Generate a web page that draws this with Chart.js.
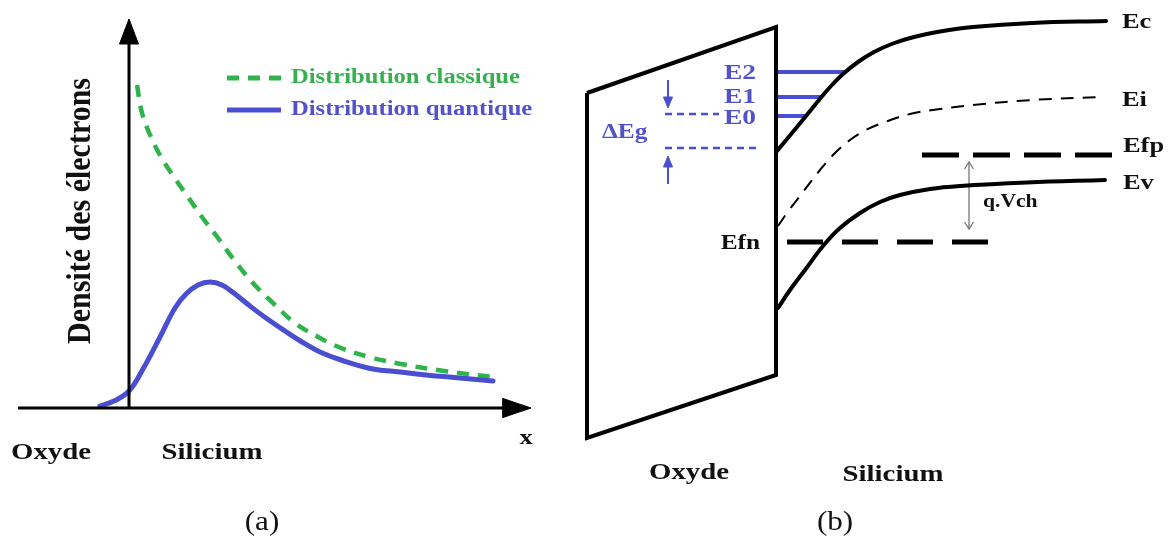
<!DOCTYPE html>
<html>
<head>
<meta charset="utf-8">
<script src="https://cdn.jsdelivr.net/npm/chart.js@4/dist/chart.umd.min.js"></script>
<style>
  body { margin: 0; background: #fff; }
  canvas { display: block; }
</style>
</head>
<body>
<canvas id="schema" width="1173" height="541"></canvas>
<script>
// --- panel (a) : densité des électrons ---
var classique = [[137,85],[142,113],[151,137],[161,157],[174,177],[188,197],[202,217],[218,238],[234,260],[252,282],[273,303],[295,323],[320,338],[341,348],[369,357],[401,364],[444,371],[493,377]];
var quantique = [[100,406],[114,401],[129,391],[143,369],[160,337],[175,308],[186,294],[198,285],[210,282],[222,285],[235,294],[250,306],[266,318],[285,331],[302,342],[320,352],[341,360],[373,369],[400,372],[426,375],[460,378],[493,381]];
var axeY = [[129,408],[129,40]];
var axeYTete = [[129,19],[119.5,44],[138.5,44],[129,19]];
var axeX = [[18,408],[506,408]];
var axeXTete = [[531,408],[503,398.5],[503,417.5],[531,408]];
var legendeClassique = [[227,78],[281,78]];
var legendeQuantique = [[227,110],[281,110]];

// --- panel (b) : diagramme de bandes ---
var oxyde = [[587,93],[776,27],[776,375],[587,438],[587,93]];
var Ec = [[777,151],[792,133],[806,116],[819,100],[831,86],[843,74],[858,62],[874,52],[893,43.5],[914,37],[940,31.5],[973,27],[1032,23],[1106,21]];
var Ei = [[778,226],[787,213],[803,192],[820,170],[835,153],[850,140],[866,130],[885,122],[910,114],[940,109],[973,105],[1032,100],[1102,97]];
var Ev = [[778,308],[790,290],[805,270],[823,246],[840,228],[860,213],[880,202],[900,195],[930,189],[960,186],[1027,182.5],[1105,180]];
var Efp = [[922,155],[1113,155]];
var Efn = [[787,242],[988,242]];
var E2 = [[778,72],[844,72]];
var E1 = [[778,97],[821,97]];
var E0 = [[778,116],[805,116]];
var dEgHaut = [[665,114],[719,114]];
var dEgBas = [[665,148],[760,148]];
var flecheBas = [[668,80],[668,100]];
var flecheBasTete = [[668,108],[663.5,97],[672.5,97],[668,108]];
var flecheHaut = [[668,184],[668,166]];
var flecheHautTete = [[668,156],[663.5,167],[672.5,167],[668,156]];
var qVch = [[969,162],[969,229]];
var qVchHaut = [[964.5,169],[969,162],[973.5,169]];
var qVchBas = [[964.5,222],[969,229],[973.5,222]];

var vert = '#2fb34b';
var bleu = '#4a4fd2';
var bleuTexte = '#5252cc';

function pts(arr) {
  return arr.map(function (p) { return { x: p[0], y: p[1] }; });
}

function trait(data, color, width, extra) {
  var ds = {
    data: pts(data),
    showLine: true,
    borderColor: color,
    backgroundColor: color,
    borderWidth: width,
    pointRadius: 0,
    fill: false,
    tension: 0
  };
  for (var k in extra) ds[k] = extra[k];
  return ds;
}

function tete(data, color) {
  return trait(data, color, 1, { fill: 'shape' });
}

// courbes lissées
var courbe = { tension: 0.4, borderCapStyle: 'round' };

// textes du schéma
var serif = '"Liberation Serif", "Times New Roman", serif';
var textes = [
  { t: 'Densité des électrons', x: 90, y: 211, size: 30, bold: true, color: '#111', rot: -90, align: 'center', base: 'alphabetic', sy: 1.1 },
  { t: 'Distribution classique', x: 291, y: 78, size: 20, bold: true, color: '#35b04e', align: 'left', sx: 1.23 },
  { t: 'Distribution quantique', x: 291, y: 110, size: 20, bold: true, color: bleuTexte, align: 'left', sx: 1.23 },
  { t: 'x', x: 526, y: 438, size: 22, bold: true, color: '#111', align: 'center', sx: 1.2 },
  { t: 'Oxyde', x: 51, y: 453, size: 24, bold: true, color: '#111', align: 'center', sx: 1.2 },
  { t: 'Silicium', x: 212, y: 453, size: 24, bold: true, color: '#111', align: 'center', sx: 1.2 },
  { t: '(a)', x: 262, y: 523, size: 27, bold: false, color: '#111', align: 'center', sx: 1.15 },
  { t: 'E2', x: 756, y: 73, size: 22, bold: true, color: bleuTexte, align: 'right', sx: 1.25 },
  { t: 'E1', x: 756, y: 97, size: 22, bold: true, color: bleuTexte, align: 'right', sx: 1.25 },
  { t: 'E0', x: 756, y: 118, size: 22, bold: true, color: bleuTexte, align: 'right', sx: 1.25 },
  { t: 'ΔEg', x: 602, y: 132, size: 22, bold: true, color: bleuTexte, align: 'left', sx: 1.15 },
  { t: 'Ec', x: 1122, y: 22, size: 22, bold: true, color: '#111', align: 'left', sx: 1.2 },
  { t: 'Ei', x: 1122, y: 100, size: 22, bold: true, color: '#111', align: 'left', sx: 1.2 },
  { t: 'Efp', x: 1123, y: 146, size: 22, bold: true, color: '#111', align: 'left', sx: 1.2 },
  { t: 'Ev', x: 1123, y: 183, size: 22, bold: true, color: '#111', align: 'left', sx: 1.2 },
  { t: 'Efn', x: 760, y: 243, size: 22, bold: true, color: '#111', align: 'right', sx: 1.15 },
  { t: 'q.Vch', x: 983, y: 202, size: 18, bold: true, color: '#111', align: 'left', sx: 1.2 },
  { t: 'Oxyde', x: 689, y: 473, size: 24, bold: true, color: '#111', align: 'center', sx: 1.2 },
  { t: 'Silicium', x: 893, y: 475, size: 24, bold: true, color: '#111', align: 'center', sx: 1.2 },
  { t: '(b)', x: 835, y: 523, size: 27, bold: false, color: '#111', align: 'center', sx: 1.15 }
];

// plugin qui pose les textes via les échelles du graphique
var textesPlugin = {
  id: 'textes',
  afterDatasetsDraw: function (chart) {
    var ctx = chart.ctx;
    var sx = chart.scales.x, sy = chart.scales.y;
    textes.forEach(function (o) {
      ctx.save();
      ctx.translate(sx.getPixelForValue(o.x), sy.getPixelForValue(o.y));
      if (o.rot) ctx.rotate(o.rot * Math.PI / 180);
      ctx.scale(o.sx || 1, o.sy || 1);
      ctx.font = (o.bold ? 'bold ' : '') + o.size + 'px ' + serif;
      ctx.fillStyle = o.color;
      ctx.textAlign = o.align;
      ctx.textBaseline = o.base || 'middle';
      ctx.fillText(o.t, 0, 0);
      ctx.restore();
    });
  }
};

var datasets = [
  // (a)
  trait(axeY, '#000', 3),
  tete(axeYTete, '#000'),
  trait(axeX, '#000', 3),
  tete(axeXTete, '#000'),
  trait(quantique, bleu, 5, courbe),
  trait(classique, vert, 4.5, { tension: 0.4, borderDash: [12, 9] }),
  trait(legendeClassique, vert, 5, { borderDash: [12, 9] }),
  trait(legendeQuantique, bleu, 5),
  // (b)
  trait(oxyde, '#000', 4, { borderJoinStyle: 'miter' }),
  trait(Ec, '#000', 4, courbe),
  trait(Ei, '#000', 2, { tension: 0.4, borderDash: [13, 9] }),
  trait(Ev, '#000', 4, courbe),
  trait(Efp, '#000', 5, { borderDash: [37, 14] }),
  trait(Efn, '#000', 5, { borderDash: [36, 19] }),
  trait(E2, bleu, 4),
  trait(E1, bleu, 4),
  trait(E0, bleu, 4),
  trait(dEgHaut, bleu, 2.5, { borderDash: [7, 5] }),
  trait(dEgBas, bleu, 2.5, { borderDash: [7, 5] }),
  trait(flecheBas, bleu, 2),
  tete(flecheBasTete, bleu),
  trait(flecheHaut, bleu, 2),
  tete(flecheHautTete, bleu),
  trait(qVch, '#777', 1.3),
  trait(qVchHaut, '#777', 1.3),
  trait(qVchBas, '#777', 1.3)
];

new Chart(document.getElementById('schema'), {
  type: 'scatter',
  data: { datasets: datasets },
  options: {
    responsive: false,
    animation: false,
    devicePixelRatio: 1,
    layout: { padding: 0 },
    plugins: { legend: { display: false }, tooltip: { enabled: false } },
    scales: {
      x: { type: 'linear', min: 0, max: 1173, display: false },
      y: { type: 'linear', min: 0, max: 541, reverse: true, display: false }
    }
  },
  plugins: [textesPlugin]
});
</script>
</body>
</html>
